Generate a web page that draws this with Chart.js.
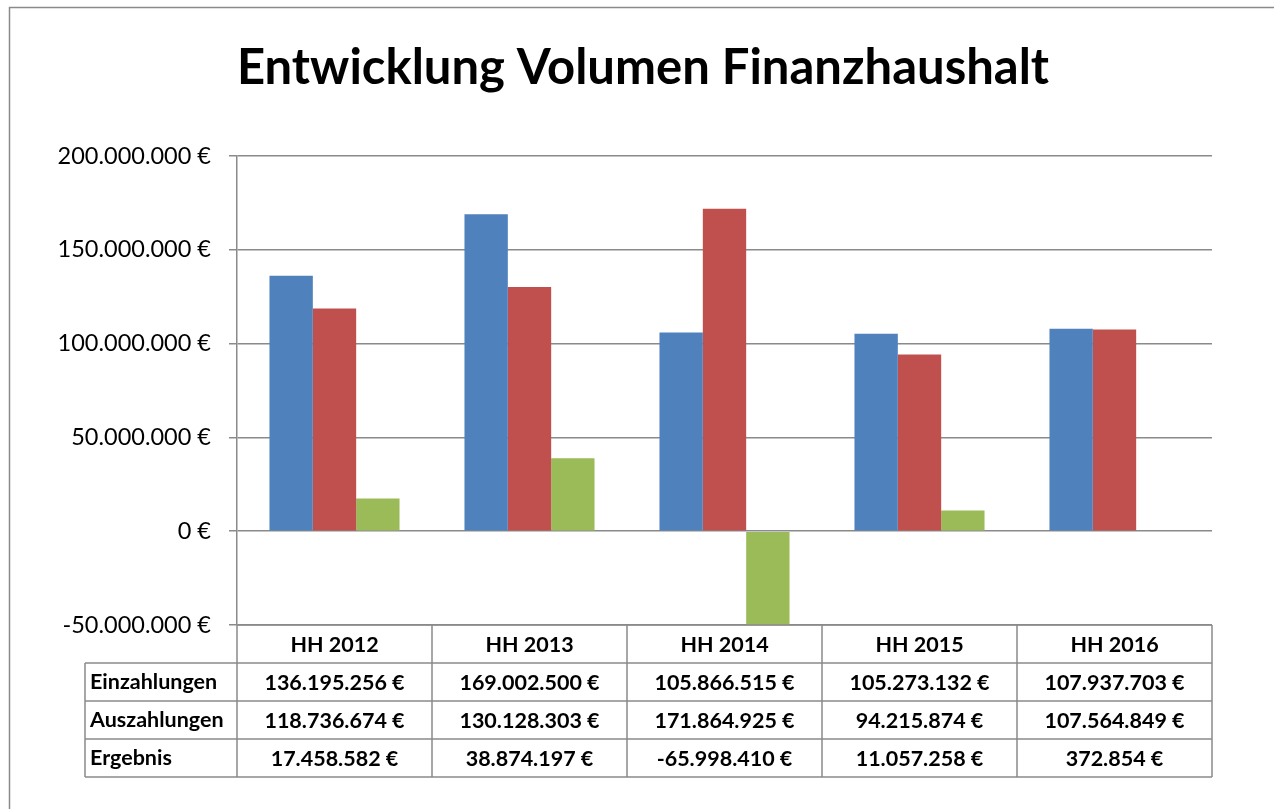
<!DOCTYPE html>
<html>
<head>
<meta charset="utf-8">
<script src="https://cdn.jsdelivr.net/npm/chart.js@4"></script>
<style>
html,body{margin:0;padding:0;background:#fff;}
canvas{display:block;}
</style>
</head>
<body>
<canvas id="c" width="1274" height="809"></canvas>
<script>
const chartTitle = 'Entwicklung Volumen Finanzhaushalt';
const categories = ['HH 2012', 'HH 2013', 'HH 2014', 'HH 2015', 'HH 2016'];
const seriesNames = ['Einzahlungen', 'Auszahlungen', 'Ergebnis'];
const einzahlungen = [136195256, 169002500, 105866515, 105273132, 107937703];
const auszahlungen = [118736674, 130128303, 171864925, 94215874, 107564849];
const ergebnis = [17458582, 38874197, -65998410, 11057258, 372854];
const seriesColors = ['#4F81BD', '#C0504D', '#9BBB59'];
const yMin = -50000000, yMax = 200000000, yStep = 50000000;

const FONT = 'Lato, "Open Sans", sans-serif';
const LINE = '#8a8a8a';

function fmt(v) {
  const neg = v < 0;
  const s = Math.abs(Math.round(v)).toString().replace(/\B(?=(\d{3})+(?!\d))/g, '.');
  return (neg ? '-' : '') + s + ' €';
}

const seriesData = [einzahlungen, auszahlungen, ergebnis];

const decor = {
  id: 'decor',
  beforeDraw(chart) {
    const ctx = chart.ctx;
    ctx.save();
    ctx.fillStyle = '#fff';
    ctx.fillRect(0, 0, chart.width, chart.height);
    ctx.strokeStyle = LINE;
    ctx.lineWidth = 1.5;
    ctx.strokeRect(9.5, 7.5, chart.width + 20, chart.height + 20);
    ctx.fillStyle = '#000';
    ctx.font = 'bold 49px ' + FONT;
    ctx.textAlign = 'center';
    ctx.textBaseline = 'alphabetic';
    ctx.fillText(chartTitle, 643, 84);
    ctx.restore();
  },
  afterDraw(chart) {
    const ctx = chart.ctx;
    const ca = chart.chartArea;
    const xs = chart.scales.x;
    const n = categories.length;
    const colW = (ca.right - ca.left) / n;
    const rowH = 38;
    const top = ca.bottom;
    const labelLeft = 85;
    ctx.save();
    ctx.strokeStyle = LINE;
    ctx.lineWidth = 1.5;
    ctx.beginPath();
    ctx.moveTo(ca.left, top); ctx.lineTo(ca.right, top);
    for (let r = 1; r <= 4; r++) {
      const y = top + r * rowH;
      ctx.moveTo(labelLeft, y); ctx.lineTo(ca.right, y);
    }
    ctx.moveTo(labelLeft, top + rowH); ctx.lineTo(labelLeft, top + 4 * rowH);
    for (let i = 0; i <= n; i++) {
      const x = ca.left + i * colW;
      ctx.moveTo(x, top); ctx.lineTo(x, top + 4 * rowH);
    }
    ctx.stroke();

    ctx.fillStyle = '#000';
    ctx.font = 'bold 21.5px ' + FONT;
    ctx.textBaseline = 'middle';
    ctx.textAlign = 'center';
    categories.forEach((c, i) => {
      const cx = xs.getPixelForValue(i);
      ctx.fillText(c, cx, top + rowH / 2 + 1);
      seriesData.forEach((arr, s) => {
        ctx.fillText(fmt(arr[i]), cx, top + (s + 1) * rowH + rowH / 2 + 1);
      });
    });
    ctx.textAlign = 'left';
    seriesNames.forEach((name, s) => {
      ctx.fillText(name, labelLeft + 5, top + (s + 1) * rowH + rowH / 2);
    });
    ctx.restore();
  }
};

new Chart(document.getElementById('c'), {
  type: 'bar',
  data: {
    labels: categories,
    datasets: seriesNames.map((name, i) => ({
      label: name,
      data: seriesData[i],
      backgroundColor: seriesColors[i],
      borderWidth: 0,
      categoryPercentage: 0.667,
      barPercentage: 1.0
    }))
  },
  options: {
    responsive: false,
    animation: false,
    devicePixelRatio: 1,
    layout: { padding: { left: 0, right: 62, top: 156, bottom: 184 } },
    plugins: {
      legend: { display: false },
      title: { display: false },
      tooltip: { enabled: false }
    },
    scales: {
      x: { display: false },
      y: {
        min: yMin,
        max: yMax,
        afterFit(scale) { scale.width = 237; },
        ticks: {
          stepSize: yStep,
          padding: 18,
          color: '#000',
          font: { family: FONT, size: 23.5 },
          callback: (v) => fmt(v)
        },
        grid: { color: LINE, lineWidth: 1.5, tickLength: 8, drawTicks: true },
        border: { color: LINE, width: 1.5 }
      }
    }
  },
  plugins: [decor]
});
</script>
</body>
</html>
